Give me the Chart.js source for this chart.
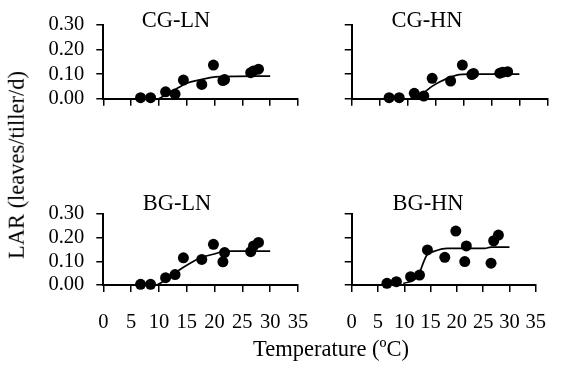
<!DOCTYPE html>
<html>
<head>
<meta charset="utf-8">
<script src="https://cdn.jsdelivr.net/npm/chart.js@4.4.0/dist/chart.umd.min.js"></script>
<style>
html,body{margin:0;padding:0;background:#fff;}
#wrap{position:relative;width:564px;height:365px;overflow:hidden;background:#fff;font-family:"Liberation Serif","Times New Roman",serif;color:#000;}
#wrap canvas{position:absolute;left:0;top:0;}
.lbl{position:absolute;white-space:nowrap;line-height:1;transform:translate(-50%,-50%);font-size:22.5px;}
.rot{transform:translate(-50%,-50%) rotate(-90deg);}
</style>
</head>
<body>
<div id="wrap">
  <canvas id="c0" width="564" height="365"></canvas>
  <canvas id="c1" width="564" height="365"></canvas>
  <canvas id="c2" width="564" height="365"></canvas>
  <canvas id="c3" width="564" height="365"></canvas>
  <div class="lbl" id="t0" style="left:176px;top:19.5px;"></div>
  <div class="lbl" id="t1" style="left:427px;top:19.5px;"></div>
  <div class="lbl" id="t2" style="left:177px;top:203px;"></div>
  <div class="lbl" id="t3" style="left:428px;top:203px;"></div>
  <div class="lbl" id="xt" style="left:331px;top:349px;"></div>
  <div class="lbl rot" id="yt" style="left:17px;top:165px;"></div>
</div>
<script>
// ---- data ----
const xTicks = [0, 5, 10, 15, 20, 25, 30, 35];
const yTicks = [0, 0.1, 0.2, 0.3];
const panelTitles = ['CG-LN', 'CG-HN', 'BG-LN', 'BG-HN'];
const xTitle = 'Temperature (ºC)';
const yTitle = 'LAR (leaves/tiller/d)';

// observed temperatures (ºC)
const temps = [6.7, 8.5, 11.2, 12.9, 14.4, 17.7, 19.8, 21.5, 21.8, 26.5, 27.0, 27.9];

// observed LAR values per panel
const larCgLn = [0.004, 0.004, 0.028, 0.019, 0.076, 0.058, 0.137, 0.074, 0.078, 0.106, 0.113, 0.120];
const larCgHn = [0.004, 0.004, 0.022, 0.011, 0.083, 0.072, 0.137, 0.098, 0.103, 0.104, 0.108, 0.110];
const larBgLn = [0.003, 0.003, 0.031, 0.044, 0.115, 0.108, 0.172, 0.098, 0.137, 0.141, 0.165, 0.180];
const larBgHn = [0.007, 0.014, 0.035, 0.042, 0.148, 0.117, 0.228, 0.099, 0.165, 0.092, 0.187, 0.211];

// fitted curves
const fitCgLnX = [10.0, 12.6, 15.0, 17.4, 19.2, 21.0, 30.0];
const fitCgLnY = [0.000, 0.033, 0.063, 0.077, 0.086, 0.090, 0.092];
const fitCgHnX = [11.8, 14.3, 15.8, 18.8, 21.2, 30.0];
const fitCgHnY = [0.003, 0.049, 0.069, 0.096, 0.100, 0.100];
const fitBgLnX = [9.6, 11.7, 13.2, 15.6, 17.7, 19.8, 22.2, 30.0];
const fitBgLnY = [0.000, 0.028, 0.056, 0.092, 0.117, 0.130, 0.143, 0.143];
const fitBgHnX = [9.8, 12.5, 14.3, 15.5, 18.2, 25.3, 26.5, 30.0];
const fitBgHnY = [0.006, 0.035, 0.127, 0.141, 0.155, 0.155, 0.160, 0.160];

// ---- drawing ----
const FONT = 'Liberation Serif';
function panel(id, obsX, obsY, fitX, fitY, area, showX, showY) {
  const W = 60, H = 60;
  new Chart(document.getElementById(id), {
    type: 'scatter',
    data: {
      datasets: [
        {
          data: obsX.map((x, i) => ({ x: x, y: obsY[i] })),
          pointRadius: 5.5, pointHoverRadius: 5.5,
          pointBackgroundColor: '#000', pointBorderColor: '#000', pointBorderWidth: 0,
          showLine: false, clip: false, order: 0
        },
        {
          data: fitX.map((x, i) => ({ x: x, y: fitY[i] })),
          showLine: true, pointRadius: 0, borderColor: '#000', borderWidth: 1.7,
          cubicInterpolationMode: 'monotone', clip: false, order: 1
        }
      ]
    },
    options: {
      responsive: false, animation: false, devicePixelRatio: 1,
      events: [],
      layout: { padding: { left: area.left - W, right: 564 - area.right, top: area.top, bottom: 365 - area.bottom - H } },
      plugins: { legend: { display: false }, tooltip: { enabled: false }, title: { display: false } },
      scales: {
        x: {
          type: 'linear', min: 0, max: 35,
          afterFit: s => { s.height = H; },
          afterBuildTicks: s => { s.ticks = xTicks.map(v => ({ value: v })); },
          grid: { drawOnChartArea: false, drawTicks: true, tickLength: 7, color: '#000', lineWidth: 1.5 },
          border: { display: true, color: '#000', width: 2 },
          ticks: { display: showX, autoSkip: false, maxRotation: 0, padding: 18, color: '#000',
                   font: { family: FONT, size: 20.5 }, callback: v => String(v) }
        },
        y: {
          type: 'linear', min: 0, max: 0.3,
          afterFit: s => { s.width = W; },
          afterBuildTicks: s => { s.ticks = yTicks.map(v => ({ value: v })); },
          grid: { drawOnChartArea: false, drawTicks: true, tickLength: 7, color: '#000', lineWidth: 1.5 },
          border: { display: true, color: '#000', width: 2 },
          ticks: { display: showY, autoSkip: false, padding: 12, color: '#000',
                   font: { family: FONT, size: 20.5 }, callback: v => Number(v).toFixed(2) }
        }
      }
    }
  });
}

const areaTL = { left: 103.3, right: 298, top: 25, bottom: 98.7 };
const areaTR = { left: 351.7, right: 547.3, top: 25, bottom: 98.7 };
const areaBL = { left: 103.3, right: 298, top: 214, bottom: 285 };
const areaBR = { left: 351.7, right: 547.3, top: 214, bottom: 285 };

panel('c0', temps, larCgLn, fitCgLnX, fitCgLnY, areaTL, false, true);
panel('c1', temps, larCgHn, fitCgHnX, fitCgHnY, areaTR, false, false);
panel('c2', temps, larBgLn, fitBgLnX, fitBgLnY, areaBL, true, true);
panel('c3', temps, larBgHn, fitBgHnX, fitBgHnY, areaBR, true, false);

panelTitles.forEach((t, i) => { document.getElementById('t' + i).textContent = t; });
document.getElementById('xt').textContent = xTitle;
document.getElementById('yt').textContent = yTitle;
</script>
</body>
</html>
